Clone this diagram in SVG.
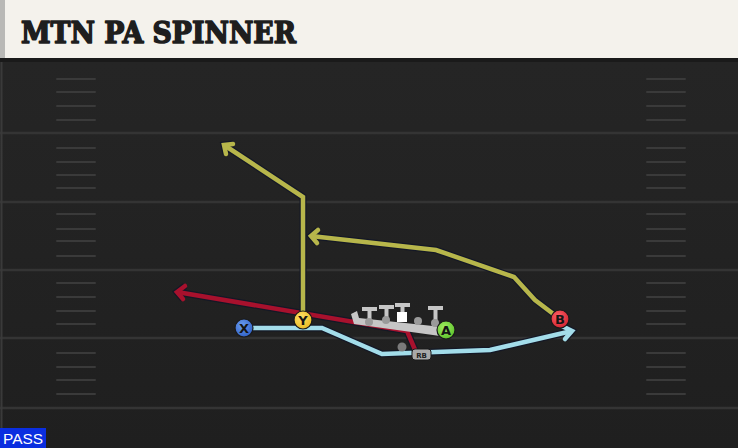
<svg xmlns="http://www.w3.org/2000/svg" width="738" height="448" viewBox="0 0 738 448">
<defs>
<style>
.fl{stroke:#343434;stroke-width:2.5}
.hm{stroke:#3a3a3a;stroke-width:2;stroke-linecap:round}
.ol{fill:none;stroke:#141826;stroke-width:7;stroke-linejoin:miter}
.yl{fill:none;stroke:#b7b64b;stroke-width:4.5;stroke-linejoin:miter}
.rd{fill:none;stroke:#a8112d;stroke-width:4.5}
.bl{fill:none;stroke:#a3ddea;stroke-width:4.5}
.lab{font-family:"DejaVu Sans","Liberation Sans",sans-serif;font-weight:bold;font-size:13px;fill:#151515;text-anchor:middle}
.pc{stroke:#1a1a1a;stroke-width:1.2}
</style>
<linearGradient id="fg" x1="0" y1="0" x2="0" y2="1">
<stop offset="0" stop-color="#262626"/>
<stop offset="1" stop-color="#1f1f1f"/>
</linearGradient>
<radialGradient id="gX" cx="0.4" cy="0.35" r="0.7"><stop offset="0" stop-color="#6a9cf0"/><stop offset="1" stop-color="#2e5fc4"/></radialGradient>
<radialGradient id="gY" cx="0.4" cy="0.35" r="0.7"><stop offset="0" stop-color="#ffe066"/><stop offset="1" stop-color="#e8b820"/></radialGradient>
<radialGradient id="gA" cx="0.4" cy="0.35" r="0.7"><stop offset="0" stop-color="#a0ee60"/><stop offset="1" stop-color="#5bbf2a"/></radialGradient>
<radialGradient id="gB" cx="0.4" cy="0.35" r="0.7"><stop offset="0" stop-color="#ff6068"/><stop offset="1" stop-color="#d0222e"/></radialGradient>
</defs>
<rect x="0" y="0" width="738" height="448" fill="url(#fg)"/>
<g id="field">
<line class="fl" x1="0" y1="133" x2="738" y2="133"/>
<line class="fl" x1="0" y1="202" x2="738" y2="202"/>
<line class="fl" x1="0" y1="270" x2="738" y2="270"/>
<line class="fl" x1="0" y1="338" x2="738" y2="338"/>
<line class="fl" x1="0" y1="408" x2="738" y2="408"/>
<line x1="1.5" y1="62" x2="1.5" y2="448" stroke="#3a3a3a" stroke-width="2"/>
<g id="hashL">
<path class="hm" d="M57 79H95M57 92H95M57 106H95M57 120H95M57 148H95M57 162H95M57 175H95M57 188H95M57 214H95M57 229H95M57 241H95M57 256H95M57 283H95M57 297H95M57 311H95M57 324H95M57 353H95M57 367H95M57 380H95M57 394H95"/>
</g>
<g id="hashR">
<path class="hm" d="M647 79H685M647 92H685M647 106H685M647 120H685M647 148H685M647 162H685M647 175H685M647 188H685M647 214H685M647 229H685M647 241H685M647 256H685M647 283H685M647 297H685M647 311H685M647 324H685M647 353H685M647 367H685M647 380H685M647 394H685"/>
</g>
</g>
<g id="header">
<rect x="0" y="0" width="738" height="58" fill="#f4f2ec"/>
<rect x="0" y="0" width="5" height="58" fill="#b9b9b6"/>
<rect x="0" y="58" width="738" height="4" fill="#1a1a1a"/>
<text x="21" y="43" font-family="'DejaVu Serif','Liberation Serif',serif" font-weight="bold" font-size="29" fill="#1e1e1e" stroke="#1e1e1e" stroke-width="1.6" stroke-linejoin="round" textLength="275" lengthAdjust="spacingAndGlyphs">MTN PA SPINNER</text>
</g>
<g id="connectors">
<path class="ol" d="M244 328H322L382 354L490 350L572 331M562 326L572 331L565 339"/>
<path class="bl" d="M244 328H322L382 354L490 350L572 331"/>
<path class="bl" d="M562 326L572 331L565 339" stroke-linecap="round"/>
<path class="ol" d="M416 352L407 331L177 292M185 286L177 292L183 299"/>
<path class="rd" d="M416 352L407 331L177 292"/>
<path class="rd" d="M185 286L177 292L183 299" stroke-linecap="round"/>
<path class="ol" d="M303 320V197L224 145M226 154L224 145L233 144"/>
<path class="yl" d="M303 320V197L224 145"/>
<path class="yl" d="M226 154L224 145L233 144" stroke-linecap="round"/>
<path class="ol" d="M560 319L535 300L514 277L436 250L311 236M318 230L311 236L317 243"/>
<path class="yl" d="M560 319L535 300L514 277L436 250L311 236"/>
<path class="yl" d="M318 230L311 236L317 243" stroke-linecap="round"/>
</g>
<g id="line">
<polygon points="351,314 357,311 359,318 442,327 440,336 354,324" fill="#c6c6c6"/>
<path d="M362 309H377M369.5 309V321M379 307H394M386.5 307V320M395 305H410M402.5 305V318M428 308H443M435.5 308V322" stroke="#c6c6c6" stroke-width="4"/>
<rect x="397" y="312" width="10" height="10" fill="#ffffff"/>
<circle cx="369" cy="322" r="4" fill="#9a9a9a"/>
<circle cx="386" cy="320" r="4" fill="#9a9a9a"/>
<circle cx="418" cy="321" r="4" fill="#9a9a9a"/>
<circle cx="435" cy="323" r="4" fill="#9a9a9a"/>
<circle cx="402" cy="347" r="4.5" fill="#7a7a7a"/>
</g>
<g id="X"><circle class="pc" cx="244" cy="328" r="9" fill="url(#gX)"/><text class="lab" x="244" y="332.5">X</text></g>
<g id="Y"><circle class="pc" cx="303" cy="320" r="9" fill="url(#gY)"/><text class="lab" x="303" y="324.5">Y</text></g>
<g id="A"><circle class="pc" cx="446" cy="330" r="9" fill="url(#gA)"/><text class="lab" x="446" y="334.5">A</text></g>
<g id="B"><circle class="pc" cx="560" cy="319" r="9" fill="url(#gB)"/><text class="lab" x="560" y="323.5">B</text></g>
<g id="RB"><rect x="412" y="349" width="19" height="11" rx="3" fill="#a9a9a9" stroke="#1a1a1a" stroke-width="1"/><text x="421.5" y="357.5" font-family="'DejaVu Sans','Liberation Sans',sans-serif" font-size="7" font-weight="bold" fill="#222" text-anchor="middle">RB</text></g>
<g id="pass"><rect x="0" y="428" width="46" height="20" fill="#0a2ee0"/><text x="23" y="444" font-family="'Liberation Sans','DejaVu Sans',sans-serif" font-size="15" fill="#ffffff" text-anchor="middle" textLength="40" lengthAdjust="spacingAndGlyphs">PASS</text></g>
</svg>
